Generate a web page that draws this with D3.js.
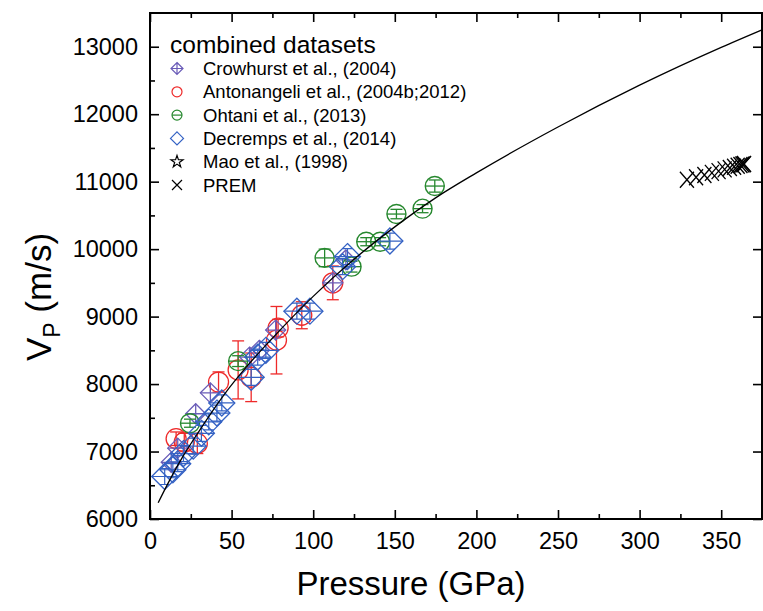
<!DOCTYPE html>
<html>
<head>
<meta charset="utf-8">
<script src="https://cdn.jsdelivr.net/npm/d3@7"></script>
<style>
  body { margin: 0; background: #fff; }
  svg text { font-family: "Liberation Sans", Arial, sans-serif; fill: #000; }
</style>
</head>
<body>
<div id="chart"></div>
<script>
// fit curve
const fitP = [5, 10, 20, 30, 45, 60, 75, 100, 125, 150, 175, 200, 250, 300, 350, 375];
const fitV = [6240, 6480, 6920, 7300, 7830, 8280, 8680, 9300, 9850, 10330, 10760, 11130, 11810, 12430, 12990, 13250];

// Crowhurst et al., (2004)
const crowP = [13, 17, 28, 37, 61, 67, 77, 112, 120];
const crowV = [6840, 7050, 7560, 7870, 8400, 8500, 8800, 9500, 9840];

// Antonangeli et al., (2004b;2012)
const antoP = [16, 21, 29, 42, 54, 62, 77.5, 78.5, 93, 112];
const antoV = [7190, 7140, 7120, 8030, 8210, 8100, 8650, 8830, 9020, 9500];
const antoErr = [100, 130, 150, 150, 430, 360, 500, 130, 200, 250];

// Ohtani et al., (2013)
const ohtaP = [24.5, 54, 107, 123.5, 132.5, 141, 151, 167, 174.5];
const ohtaV = [7420, 8340, 9870, 9740, 10110, 10110, 10520, 10600, 10935];
const ohtaErr = [60, 80, 130, 80, 60, 60, 70, 60, 90];

// Decremps et al., (2014)
const decrP = [9, 14, 17, 20.5, 26.5, 31.5, 36, 41, 44, 62, 66, 71, 90, 98, 118, 121, 147];
const decrV = [6630, 6730, 6820, 6970, 7080, 7270, 7440, 7570, 7720, 8100, 8400, 8500, 9080, 9080, 9740, 9890, 10120];

// PREM inner core
const premP = [329, 334.6, 339.7, 344.3, 348.4, 352.1, 355.3, 357.9, 360.1, 361.8, 363.0, 363.8, 364];
const premV = [11028, 11065, 11099, 11130, 11157, 11182, 11203, 11221, 11236, 11247, 11255, 11260, 11262];

const legendNames = ["Crowhurst et al., (2004)", "Antonangeli et al., (2004b;2012)", "Ohtani et al., (2013)",
  "Decremps et al., (2014)", "Mao et al., (1998)", "PREM"];

const xTicks = [0, 50, 100, 150, 200, 250, 300, 350];
const yTicks = [6000, 7000, 8000, 9000, 10000, 11000, 12000, 13000];

const width = 763, height = 611;
const plotL = 150, plotR = 762, plotT = 13, plotB = 519;

const cPurple = "#6a5cb8", cRed = "#ee2a2a", cGreen = "#26882e", cBlue = "#3462c4";

const svg = d3.select("#chart").append("svg")
    .attr("width", width)
    .attr("height", height);

const x = d3.scaleLinear().domain([0, 375]).range([plotL, plotR]);
const y = d3.scaleLinear().domain([6000, 13500]).range([plotB, plotT]);

// axes
const minorX = d3.range(25, 375, 50);
const minorY = d3.range(6500, 13500, 1000);

function styleAxis(g) {
  g.select(".domain").remove();
  g.selectAll("line").attr("stroke", "#000").attr("stroke-width", 1.6);
  g.selectAll("text").style("font-size", "23.5px");
}

svg.append("g").attr("transform", `translate(0,${plotB})`)
    .call(d3.axisBottom(x).tickValues(xTicks).tickSize(-9).tickPadding(13).tickFormat(d3.format("d")))
    .call(styleAxis);
svg.append("g").attr("transform", `translate(0,${plotB})`)
    .call(d3.axisBottom(x).tickValues(minorX).tickSize(-5).tickFormat(""))
    .call(styleAxis);
svg.append("g").attr("transform", `translate(0,${plotT})`)
    .call(d3.axisTop(x).tickValues(xTicks).tickSize(-9).tickFormat(""))
    .call(styleAxis);
svg.append("g").attr("transform", `translate(0,${plotT})`)
    .call(d3.axisTop(x).tickValues(minorX).tickSize(-5).tickFormat(""))
    .call(styleAxis);
svg.append("g").attr("transform", `translate(${plotL},0)`)
    .call(d3.axisLeft(y).tickValues(yTicks).tickSize(-9).tickPadding(12).tickFormat(d3.format("d")))
    .call(styleAxis);
svg.append("g").attr("transform", `translate(${plotL},0)`)
    .call(d3.axisLeft(y).tickValues(minorY).tickSize(-5).tickFormat(""))
    .call(styleAxis);
svg.append("g").attr("transform", `translate(${plotR},0)`)
    .call(d3.axisRight(y).tickValues(yTicks).tickSize(-9).tickFormat(""))
    .call(styleAxis);

svg.append("rect")
    .attr("x", plotL).attr("y", plotT)
    .attr("width", plotR - plotL).attr("height", plotB - plotT)
    .attr("fill", "none").attr("stroke", "#000").attr("stroke-width", 2);

// axis titles
svg.append("text")
    .attr("x", (plotL + plotR) / 2 - 45).attr("y", 595)
    .attr("text-anchor", "middle")
    .style("font-size", "33px")
    .text("Pressure (GPa)");

const yt = svg.append("text")
    .attr("transform", "translate(51,297) rotate(-90)")
    .attr("text-anchor", "middle")
    .style("font-size", "35px");
yt.append("tspan").text("V");
yt.append("tspan").attr("dy", 9).style("font-size", "23px").text("P");
yt.append("tspan").attr("dy", -9).text(" (m/s)");

const plot = svg.append("g");

// helpers
function errBar(g, px, v0, v1, color, cap) {
  g.append("line").attr("x1", px).attr("x2", px).attr("y1", y(v0)).attr("y2", y(v1))
      .attr("stroke", color).attr("stroke-width", 1.3);
  [v0, v1].forEach(v => g.append("line")
      .attr("x1", px - cap).attr("x2", px + cap).attr("y1", y(v)).attr("y2", y(v))
      .attr("stroke", color).attr("stroke-width", 1.3));
}

function diamondPath(cx, cy, r) {
  return `M${cx},${cy - r}L${cx + r},${cy}L${cx},${cy + r}L${cx - r},${cy}Z`;
}

// Antonangeli
antoP.forEach((p, i) => {
  const g = plot.append("g");
  errBar(g, x(p), antoV[i] - antoErr[i], antoV[i] + antoErr[i], cRed, 6);
  g.append("circle").attr("cx", x(p)).attr("cy", y(antoV[i])).attr("r", 10)
      .attr("fill", "none").attr("stroke", cRed).attr("stroke-width", 1.3);
});

// Crowhurst
crowP.forEach((p, i) => {
  const g = plot.append("g");
  const cx = x(p), cy = y(crowV[i]);
  g.append("path").attr("d", diamondPath(cx, cy, 10))
      .attr("fill", "none").attr("stroke", cPurple).attr("stroke-width", 1.3);
  g.append("path").attr("d", `M${cx - 10},${cy}H${cx + 10}M${cx},${cy - 10}V${cy + 10}`)
      .attr("stroke", cPurple).attr("stroke-width", 1.3);
});

// Ohtani
ohtaP.forEach((p, i) => {
  const g = plot.append("g");
  const cx = x(p), cy = y(ohtaV[i]);
  errBar(g, cx, ohtaV[i] - ohtaErr[i], ohtaV[i] + ohtaErr[i], cGreen, 6);
  g.append("circle").attr("cx", cx).attr("cy", cy).attr("r", 9.5)
      .attr("fill", "none").attr("stroke", cGreen).attr("stroke-width", 1.4);
  g.append("line").attr("x1", cx - 9.5).attr("x2", cx + 9.5).attr("y1", cy).attr("y2", cy)
      .attr("stroke", cGreen).attr("stroke-width", 1.3);
});

// Decremps
decrP.forEach((p, i) => {
  const g = plot.append("g");
  const cx = x(p), cy = y(decrV[i]);
  g.append("path").attr("d", diamondPath(cx, cy, 13))
      .attr("fill", "none").attr("stroke", cBlue).attr("stroke-width", 1.3);
  g.append("path").attr("d", `M${cx - 13},${cy}H${cx + 13}M${cx},${cy - 8}V${cy + 8}M${cx - 5},${cy + 8}H${cx + 5}M${cx - 5},${cy - 8}H${cx + 5}`)
      .attr("stroke", cBlue).attr("stroke-width", 1.2);
});

// PREM
premP.forEach((p, i) => {
  const cx = x(p), cy = y(premV[i]);
  plot.append("path").attr("d", `M${cx - 7},${cy - 8}L${cx + 7},${cy + 8}M${cx - 7},${cy + 8}L${cx + 7},${cy - 8}`)
      .attr("stroke", "#000").attr("stroke-width", 1.3);
});

// fit curve
const line = d3.line().x(d => x(d[0])).y(d => y(d[1])).curve(d3.curveMonotoneX);
plot.append("path")
    .datum(fitP.map((p, i) => [p, fitV[i]]))
    .attr("d", line)
    .attr("fill", "none").attr("stroke", "#000").attr("stroke-width", 1.3);

// legend
const lg = svg.append("g");
lg.append("text").attr("x", 170).attr("y", 53).style("font-size", "24.5px").text("combined datasets");
legendNames.forEach((name, i) => {
  const ly = 68.5 + i * 23.3, sx = 177;
  lg.append("text").attr("x", 203).attr("y", ly + 6.5).style("font-size", "18.5px").text(name);
  if (i === 0) {
    lg.append("path").attr("d", diamondPath(sx, ly, 6) + `M${sx - 6},${ly}H${sx + 6}M${sx},${ly - 6}V${ly + 6}`)
        .attr("fill", "none").attr("stroke", cPurple).attr("stroke-width", 1.2);
  } else if (i === 1) {
    lg.append("circle").attr("cx", sx).attr("cy", ly).attr("r", 5)
        .attr("fill", "none").attr("stroke", cRed).attr("stroke-width", 1.2);
  } else if (i === 2) {
    lg.append("circle").attr("cx", sx).attr("cy", ly).attr("r", 5)
        .attr("fill", "none").attr("stroke", cGreen).attr("stroke-width", 1.2);
    lg.append("line").attr("x1", sx - 5).attr("x2", sx + 5).attr("y1", ly).attr("y2", ly)
        .attr("stroke", cGreen).attr("stroke-width", 1.2);
  } else if (i === 3) {
    lg.append("path").attr("d", diamondPath(sx, ly, 6.5))
        .attr("fill", "none").attr("stroke", cBlue).attr("stroke-width", 1.2);
  } else if (i === 4) {
    lg.append("path").attr("d", d3.symbol(d3.symbolStar, 45)())
        .attr("transform", `translate(${sx},${ly})`)
        .attr("fill", "none").attr("stroke", "#000").attr("stroke-width", 1.2);
  } else {
    lg.append("path").attr("d", `M${sx - 5},${ly - 5}L${sx + 5},${ly + 5}M${sx - 5},${ly + 5}L${sx + 5},${ly - 5}`)
        .attr("stroke", "#000").attr("stroke-width", 1.2);
  }
});
</script>
</body>
</html>
